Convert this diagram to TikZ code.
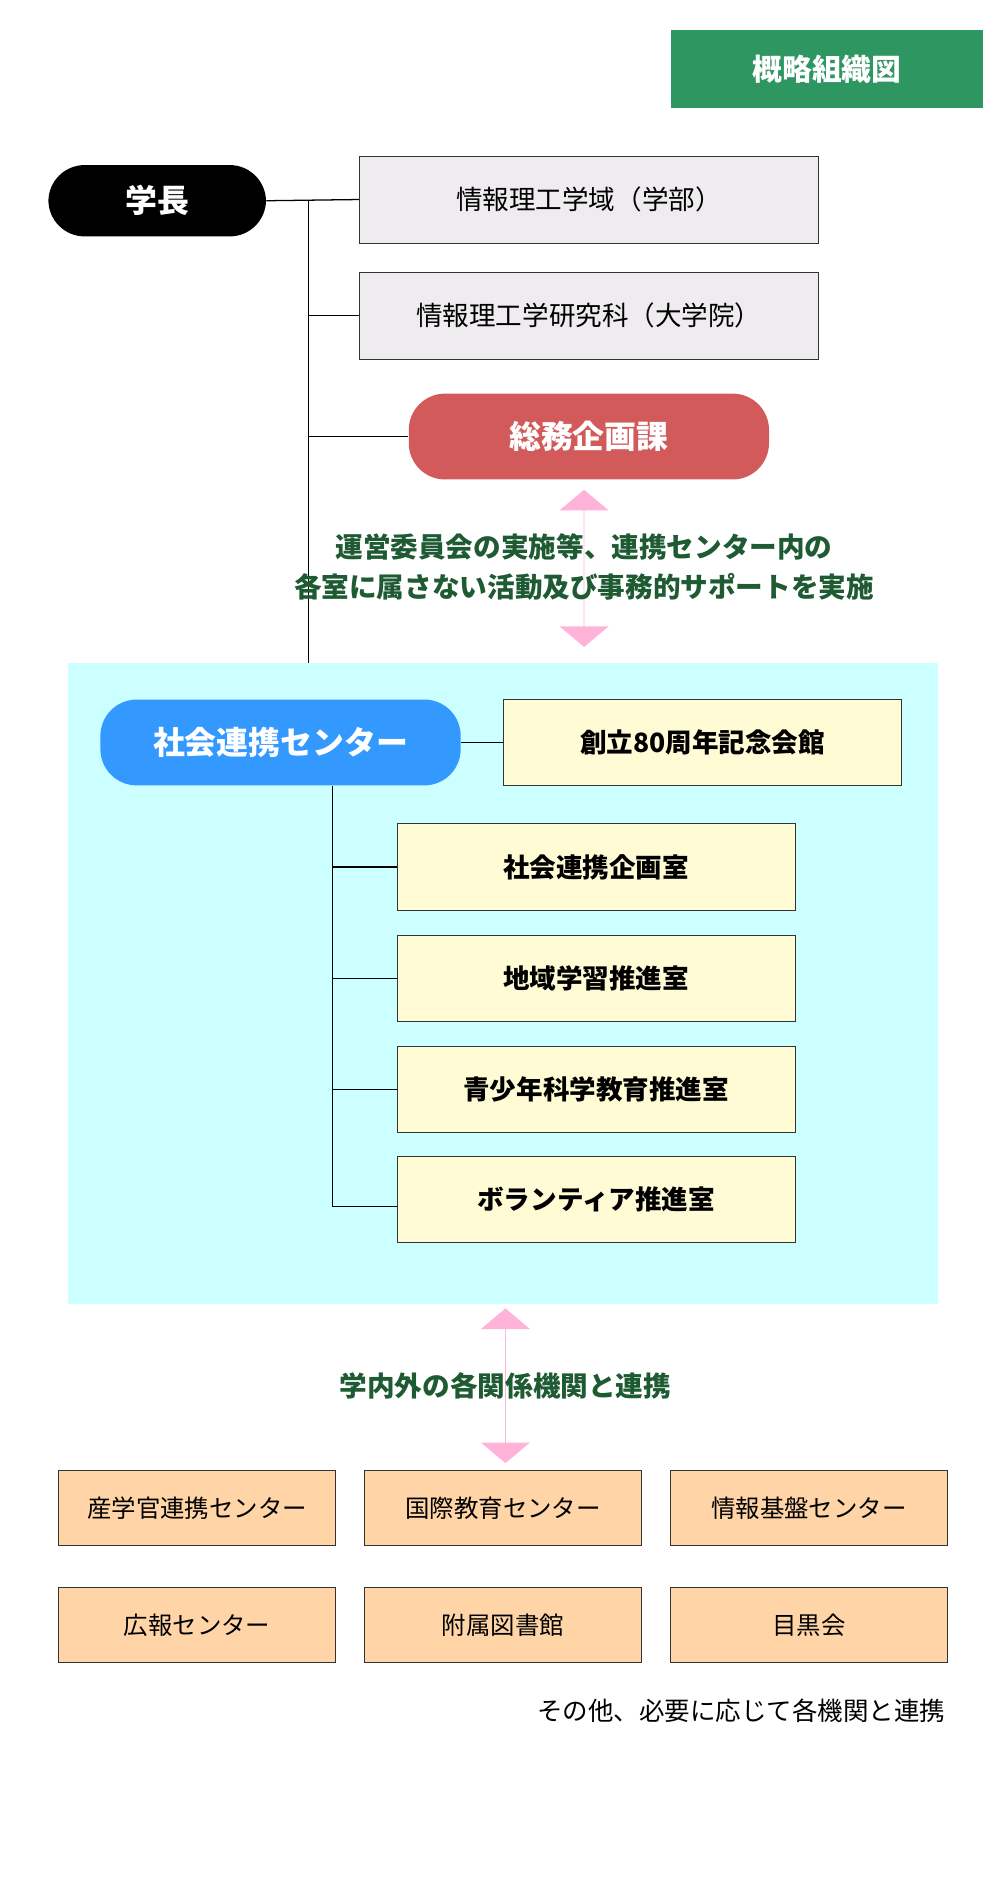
\documentclass[tikz,border=0pt]{standalone}
\usepackage{fontspec}
\setmainfont{Noto Sans CJK JP}
\usetikzlibrary{shapes.arrows}
\definecolor{titlegreen}{HTML}{2E9660}
\definecolor{textgreen}{HTML}{1E5A32}
\definecolor{graybox}{HTML}{EEECEE}
\definecolor{redpill}{HTML}{D35A5A}
\definecolor{bluepill}{HTML}{3399FF}
\definecolor{cyanbg}{HTML}{CCFFFF}
\definecolor{yellowbox}{HTML}{FFFBD5}
\definecolor{orangebox}{HTML}{FFD5A8}
\definecolor{pinkarrow}{HTML}{FFB3D9}
\begin{document}
\begin{tikzpicture}[x=0.02cm,y=-0.02cm,
    pill/.style={rounded corners=0.6cm,text=white,font=\bfseries\fontsize{15}{18}\selectfont,inner sep=0},
    unitbox/.style={draw=black!80,line width=0.4pt,font=\fontsize{12.5}{15}\selectfont,inner sep=0},
    roombox/.style={unitbox,fill=yellowbox,font=\bfseries\fontsize{12.5}{15}\selectfont,minimum width=6.58cm,minimum height=1.43cm},
    partner/.style={unitbox,fill=orangebox,font=\fontsize{11.5}{14}\selectfont,minimum width=4.58cm,minimum height=1.24cm},
    link/.style={draw=black,line width=0.6pt},
    bigarrow/.style={double arrow,fill=pinkarrow,rotate=90,inner sep=0,minimum width=0.8cm,double arrow head extend=0.4cm,double arrow tip angle=100},
    note/.style={text=textgreen,font=\bfseries\fontsize{13}{19}\selectfont,align=center}]
  \useasboundingbox (0,0) rectangle (827,1563);
  \fill[cyanbg] (56,548) rectangle (776,1078);
  \node[fill=titlegreen,text=white,font=\bfseries\fontsize{14}{17}\selectfont,minimum width=5.16cm,minimum height=1.3cm,inner sep=0] (title) at (684,57) {概略組織図};
  \node[pill,fill=black,minimum width=3.6cm,minimum height=1.18cm] (president) at (130,166) {学長};
  \node[unitbox,fill=graybox,minimum width=7.6cm,minimum height=1.44cm] (faculty) at (487,165) {情報理工学域（学部）};
  \node[unitbox,fill=graybox,minimum width=7.6cm,minimum height=1.44cm] (graduate) at (487,261) {情報理工学研究科（大学院）};
  \node[pill,fill=redpill,minimum width=5.96cm,minimum height=1.42cm] (general) at (487,361) {総務企画課};
  \coordinate (trunk) at (255,166);
  \coordinate (trunkend) at (255,548);
  \draw[link] (president.east) -- (faculty.west);
  \draw[link] (trunk) -- (trunkend);
  \draw[link] (graduate.west) -- (graduate.west -| trunk);
  \draw[link] (general.west) -- (general.west -| trunk);
  \node[bigarrow,minimum height=2.6cm] (arrowa) at (483,470) {};
  \node[note] (notea) at (483,469) {運営委員会の実施等、連携センター内の\\各室に属さない活動及び事務的サポートを実施};
  \node[pill,fill=bluepill,minimum width=5.96cm,minimum height=1.42cm] (center) at (232,614) {社会連携センター};
  \node[roombox,minimum width=6.58cm] (hall) at (581,614) {創立80周年記念会館};
  \draw[link] (center.east) -- (hall.west);
  \node[roombox] (planning) at (493,717) {社会連携企画室};
  \node[roombox] (regional) at (493,809) {地域学習推進室\hspace{1.6em}};
  \node[roombox] (youth) at (493,901) {青少年科学教育推進室};
  \node[roombox] (volunteer) at (493,992) {ボランティア推進室};
  \coordinate (branch) at (275,650);
  \draw[link] (branch) -- (275,998) -- (volunteer.west |- 0,998);
  \foreach \room in {planning,regional,youth}
    \draw[link] (\room.west) -- (\room.west -| branch);
  \node[bigarrow,minimum height=2.56cm] (arrowb) at (418,1146) {};
  \node[note] (noteb) at (418,1146) {学内外の各関係機関と連携};
  \node[partner] (industry) at (163,1247) {産学官連携センター};
  \node[partner] (intl) at (416,1247) {国際教育センター};
  \node[partner] (infra) at (669,1247) {情報基盤センター};
  \node[partner] (pr) at (163,1344) {広報センター};
  \node[partner] (library) at (416,1344) {附属図書館};
  \node[partner] (alumni) at (669,1344) {目黒会};
  \node[anchor=east,font=\fontsize{12}{15}\selectfont,inner sep=0] (others) at (782,1415) {その他、必要に応じて各機関と連携};
\end{tikzpicture}
\end{document}
